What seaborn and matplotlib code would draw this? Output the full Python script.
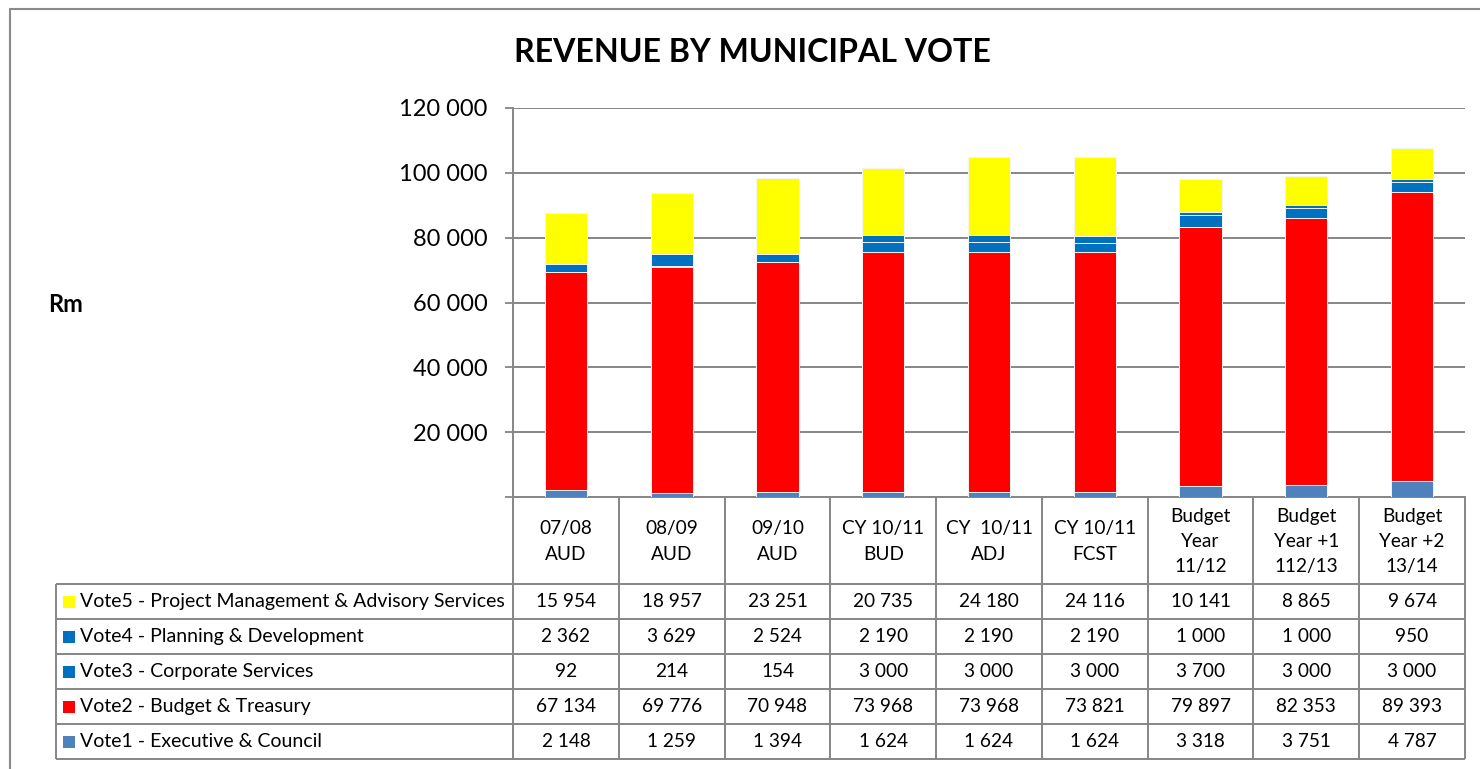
import matplotlib
matplotlib.use("Agg")
import matplotlib.pyplot as plt
from matplotlib.lines import Line2D
from matplotlib.patches import Rectangle
import numpy as np
import pandas as pd
import seaborn as sns

# ---- data -------------------------------------------------------------
periods = ["07/08\nAUD", "08/09\nAUD", "09/10\nAUD", "CY 10/11\nBUD",
           "CY  10/11\nADJ", "CY 10/11\nFCST", "Budget\nYear\n11/12",
           "Budget\nYear +1\n112/13", "Budget\nYear +2\n13/14"]
vote1 = [2148, 1259, 1394, 1624, 1624, 1624, 3318, 3751, 4787]
vote2 = [67134, 69776, 70948, 73968, 73968, 73821, 79897, 82353, 89393]
vote3 = [92, 214, 154, 3000, 3000, 3000, 3700, 3000, 3000]
vote4 = [2362, 3629, 2524, 2190, 2190, 2190, 1000, 1000, 950]
vote5 = [15954, 18957, 23251, 20735, 24180, 24116, 10141, 8865, 9674]
series_names = ["Vote1 - Executive & Council",
                "Vote2 - Budget & Treasury",
                "Vote3 - Corporate Services",
                "Vote4 - Planning & Development",
                "Vote5 - Project Management & Advisory Services"]
series_colors = ["#4F81BD", "#FF0000", "#0070C0", "#0070C0", "#FFFF00"]
y_ticks = [0, 20000, 40000, 60000, 80000, 100000, 120000]
y_tick_labels = ["", "20 000", "40 000", "60 000", "80 000", "100 000", "120 000"]

series = [vote1, vote2, vote3, vote4, vote5]

# ---- style ------------------------------------------------------------
sns.set_theme(style="white")
plt.rcParams["font.family"] = ["Lato", "DejaVu Sans"]
GRID = "#868686"

W_PX, H_PX = 1480, 769
fig = plt.figure(figsize=(W_PX / 100, H_PX / 100), dpi=100)

# plot area in pixels
PL, PR, PT, PB = 513, 1465, 108, 497
ax = fig.add_axes([PL / W_PX, 1 - PB / H_PX, (PR - PL) / W_PX, (PB - PT) / H_PX])

# stacked bars: draw cumulative totals from the top series down
df = pd.DataFrame({"period": periods})
cum = np.cumsum(np.array(series), axis=0)
for k in range(len(series) - 1, -1, -1):
    df["total"] = cum[k]
    sns.barplot(data=df, x="period", y="total", color=series_colors[k],
                saturation=1, width=0.4, errorbar=None,
                edgecolor="#f4f4f4", linewidth=0.7, ax=ax, zorder=3)

ax.set_ylim(0, 120000)
ax.set_xlim(-0.5, len(periods) - 0.5)
ax.set_yticks(y_ticks)
ax.set_yticklabels(y_tick_labels, fontsize=17, color="black")
ax.set_xlabel("")
ax.set_ylabel("")
ax.tick_params(axis="x", length=0, labelbottom=False)
ax.tick_params(axis="y", length=6, width=1.3, color=GRID, pad=12.5, left=True)
ax.yaxis.grid(True, color=GRID, linewidth=1.4)
ax.set_axisbelow(True)
for side in ("top", "right"):
    ax.spines[side].set_visible(False)
for side in ("left", "bottom"):
    ax.spines[side].set_color(GRID)
    ax.spines[side].set_linewidth(1.4)

# ---- data table below the plot ---------------------------------------
TB = 759
tab = fig.add_axes([PL / W_PX, 1 - TB / H_PX, (PR - PL) / W_PX, (TB - PB) / H_PX],
                   sharex=ax)
tab.set_ylim(TB - PB, 0)
tab.axis("off")

cat_px = (PR - PL) / len(periods)
x_left = -0.5 - (PL - 56) / cat_px
header_h = 87
row_h = 35
n = len(periods)

line_kw = dict(color=GRID, linewidth=1.4, clip_on=False, solid_capstyle="butt")
for i in range(n + 1):
    tab.plot([i - 0.5, i - 0.5], [0, TB - PB], **line_kw)
tab.plot([x_left, x_left], [header_h, TB - PB], **line_kw)
for r in range(len(series) + 1):
    y = header_h + r * row_h
    tab.plot([x_left, n - 0.5], [y, y], **line_kw)

for i, lab in enumerate(periods):
    tab.text(i, header_h / 2 + 1, lab, ha="center", va="center", fontsize=13.7,
             linespacing=1.6, color="black")

def fmt(v):
    return f"{v:,}".replace(",", " ")

for r, k in enumerate(range(len(series) - 1, -1, -1)):
    yc = header_h + r * row_h + row_h / 2
    for i, v in enumerate(series[k]):
        tab.text(i, yc, fmt(v), ha="center", va="center", fontsize=13.7,
                 color="black")
    tab.add_patch(Rectangle((x_left + 7 / cat_px, yc - 6), 12 / cat_px, 12,
                            facecolor=series_colors[k], edgecolor="none",
                            clip_on=False))
    tab.text(x_left + 24 / cat_px, yc, series_names[k], ha="left", va="center",
             fontsize=14.0, color="black")

# ---- titles and frame -------------------------------------------------
fig.text(752 / W_PX, 1 - 53 / H_PX, "REVENUE BY MUNICIPAL VOTE", ha="center",
         va="center", fontsize=23.1, fontweight="bold", color="black")
fig.text(48 / W_PX, 1 - 305 / H_PX, "Rm", ha="left", va="center",
         fontsize=17, fontweight="bold", color="black")

fig.add_artist(Line2D([10 / W_PX, 10 / W_PX], [1 - 9 / H_PX, 0],
                      transform=fig.transFigure, color="#8a8a8a", linewidth=1.5))
fig.add_artist(Line2D([10 / W_PX, 1], [1 - 9 / H_PX, 1 - 9 / H_PX],
                      transform=fig.transFigure, color="#8a8a8a", linewidth=1.5))

fig.savefig("out.png", dpi=100)
